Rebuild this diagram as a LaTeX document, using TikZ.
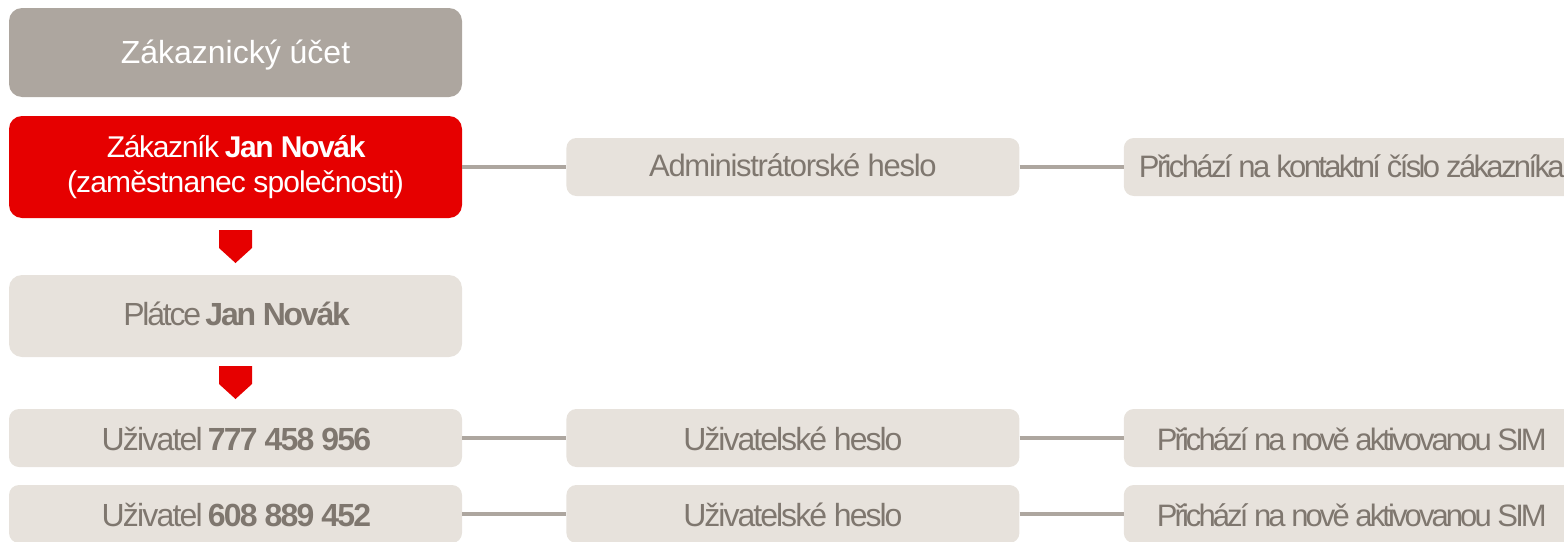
\documentclass[tikz,border=0pt]{standalone}
\usepackage{fontspec}
\setmainfont{Liberation Sans}
\usetikzlibrary{positioning}
\definecolor{Kamen}{HTML}{ADA69F}
\definecolor{Pisek}{HTML}{E7E2DC}
\definecolor{Popel}{HTML}{7F776F}
\definecolor{Cervena}{HTML}{E60000}
\newcommand\pismo[2]{\fontsize{#1}{35}\selectfont\addfontfeatures{LetterSpace=#2}}
\tikzset{
  krabice/.style={rounded corners=10pt, fill=Pisek, text=Popel, inner sep=0pt,
    minimum width=453pt, minimum height=58pt, align=center},
  velka/.style={krabice, rounded corners=13pt},
  radek/.style 2 args={text height=#1pt, text depth=#2pt},
  spojnice/.style={draw=Kamen, line width=4pt},
}

\begin{document}
\begin{tikzpicture}[x=1pt,y=-1pt]
    \clip (0,0) rectangle (1564,541);

    % ----- Levy sloupec
    \node[velka, fill=Kamen, text=white, minimum height=89pt, radek={55}{34}, font=\pismo{32}{0}] (ucet) at (235.5,52.5) {Zákaznický účet};
    \node[velka, fill=Cervena, text=white, minimum height=102pt, font=\pismo{30}{0}] (zakaznik) at (235.5,167)
        {{\addfontfeatures{LetterSpace=-4.5}Zákazník \textbf{Jan Novák}}\\{\addfontfeatures{LetterSpace=-2.9}(zaměstnanec společnosti)}};
    \node[velka, minimum height=82pt, radek={50}{32}, font=\pismo{32}{-7}] (platce) at (235.5,316) {Plátce \textbf{Jan Novák}};
    \node[krabice, radek={41}{17}, font=\pismo{32}{-5.7}] (uziv1) at (235.5,438) {Uživatel \textbf{777 458 956}};
    \node[krabice, radek={41}{17}, font=\pismo{32}{-5.7}] (uziv2) at (235.5,514) {Uživatel \textbf{608 889 452}};

    % ----- Hesla
    \node[krabice, radek={38}{20}, font=\pismo{31}{-4.2}, right=104pt of zakaznik] (admin) {Administrátorské heslo};
    \node[krabice, radek={41}{17}, font=\pismo{32}{-6.2}, right=104pt of uziv1] (heslo1) {Uživatelské heslo};
    \node[krabice, radek={41}{17}, font=\pismo{32}{-6.2}, right=104pt of uziv2] (heslo2) {Uživatelské heslo};

    % ----- Kam heslo prijde
    \node[krabice, minimum width=456pt, radek={39}{19}, font=\pismo{31}{-8.5}, right=104pt of admin] (kontakt) {Přichází na kontaktní číslo zákazníka};
    \node[krabice, minimum width=456pt, radek={41}{17}, font=\pismo{31}{-9.4}, right=104pt of heslo1] (sim1) {Přichází na nově aktivovanou SIM};
    \node[krabice, minimum width=456pt, radek={41}{17}, font=\pismo{31}{-9.4}, right=104pt of heslo2] (sim2) {Přichází na nově aktivovanou SIM};

    \foreach \a/\b in {zakaznik/admin, admin/kontakt, uziv1/heslo1, heslo1/sim1, uziv2/heslo2, heslo2/sim2}
        \draw[spojnice] (\a) -- (\b);

    \foreach \y in {230, 366} % ----- Sipky
        \fill[Cervena] (219,\y) -- (252,\y) -- (252,\y+18) -- (235.5,\y+33) -- (219,\y+18) -- cycle;
\end{tikzpicture}
\end{document}
